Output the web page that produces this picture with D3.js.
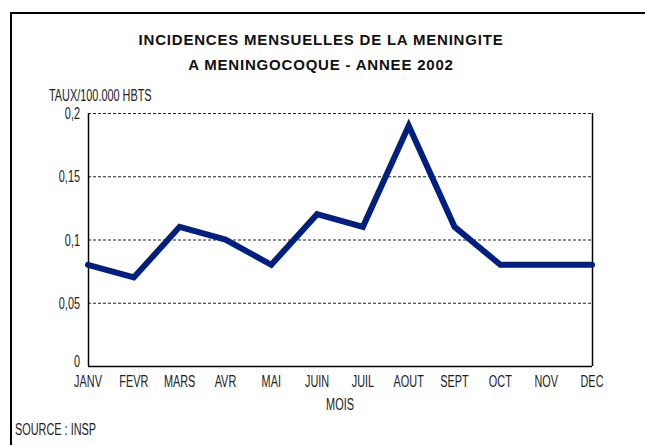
<!DOCTYPE html>
<html lang="fr">
<head>
<meta charset="utf-8">
<title>Incidences mensuelles de la meningite</title>
<script src="https://d3js.org/d3.v7.min.js"></script>
<style>
  body { margin: 0; background: #fff; }
  .narrow { font-family: "Liberation Sans", Arial, sans-serif; font-size: 16.5px; fill: #222; }
  .title { font-family: "Liberation Sans", Arial, sans-serif; font-weight: bold; font-size: 15px; letter-spacing: 0.8px; fill: #111; }
</style>
</head>
<body>
<div id="chart"></div>
<script>
// data
var months = ['JANV', 'FEVR', 'MARS', 'AVR', 'MAI', 'JUIN', 'JUIL', 'AOUT', 'SEPT', 'OCT', 'NOV', 'DEC'];
var rates = [0.08, 0.07, 0.11, 0.10, 0.08, 0.12, 0.11, 0.19, 0.11, 0.08, 0.08, 0.08];
var yTicks = [0, 0.05, 0.1, 0.15, 0.2];
var yTickLabels = ['0', '0,05', '0,1', '0,15', '0,2'];

var width = 645, height = 445;
var margin = {left: 88, right: 53, top: 113, bottom: 79};
var squeeze = 0.66; // condensed look, no narrow font installed

var svg = d3.select('#chart').append('svg')
  .attr('width', width)
  .attr('height', height);

function narrow(sel, px, py) {
  return sel.attr('class', 'narrow')
    .attr('transform', 'translate(' + px + ',' + py + ') scale(' + squeeze + ',1)');
}

// outer frame (top + left only)
svg.append('path')
  .attr('d', 'M11,' + height + 'V13H' + width)
  .attr('fill', 'none')
  .attr('stroke', '#000')
  .attr('stroke-width', 2);

svg.append('text').attr('class', 'title')
  .attr('x', 321).attr('y', 45).attr('text-anchor', 'middle')
  .text('INCIDENCES MENSUELLES DE LA MENINGITE');
svg.append('text').attr('class', 'title')
  .attr('x', 321).attr('y', 70).attr('text-anchor', 'middle')
  .text('A MENINGOCOQUE - ANNEE 2002');

var x = d3.scalePoint().domain(months).range([margin.left, width - margin.right]);
var y = d3.scaleLinear().domain([0, 0.2]).range([height - margin.bottom, margin.top]);

// gridlines
svg.append('g').selectAll('line')
  .data(yTicks)
  .join('line')
  .attr('x1', margin.left).attr('x2', width - margin.right)
  .attr('y1', function(d) { return y(d) + 0.5; })
  .attr('y2', function(d) { return y(d) + 0.5; })
  .attr('stroke', function(d) { return d === 0 ? '#000' : '#222'; })
  .attr('stroke-width', function(d) { return d === 0 ? 1.5 : 1; })
  .attr('stroke-dasharray', function(d) { return d === 0 ? null : '3,2'; });

// side lines
svg.append('line')
  .attr('x1', margin.left + 0.5).attr('x2', margin.left + 0.5)
  .attr('y1', y(0.2)).attr('y2', y(0))
  .attr('stroke', '#000').attr('stroke-width', 1.5);
svg.append('line')
  .attr('x1', width - margin.right + 0.5).attr('x2', width - margin.right + 0.5)
  .attr('y1', y(0.2)).attr('y2', y(0))
  .attr('stroke', '#000').attr('stroke-width', 1.5);

// y labels
svg.append('g').selectAll('text')
  .data(yTicks)
  .join('text')
  .each(function(d, i) {
    narrow(d3.select(this), 80, y(d) + (d === 0 ? 1 : 6))
      .attr('text-anchor', 'end')
      .text(yTickLabels[i]);
  });

// x labels
svg.append('g').selectAll('text')
  .data(months)
  .join('text')
  .each(function(d) {
    narrow(d3.select(this), x(d), 387)
      .attr('text-anchor', 'middle')
      .text(d);
  });

narrow(svg.append('text'), 49, 101).text('TAUX/100.000 HBTS');
narrow(svg.append('text'), 340, 410).attr('text-anchor', 'middle').text('MOIS');
narrow(svg.append('text'), 15, 435).text('SOURCE : INSP');

// the line
var line = d3.line()
  .x(function(d, i) { return x(months[i]); })
  .y(function(d) { return y(d); });

svg.append('path')
  .datum(rates)
  .attr('d', line)
  .attr('fill', 'none')
  .attr('stroke', '#001f80')
  .attr('stroke-width', 6)
  .attr('stroke-linejoin', 'miter')
  .attr('stroke-linecap', 'round');
</script>
</body>
</html>
